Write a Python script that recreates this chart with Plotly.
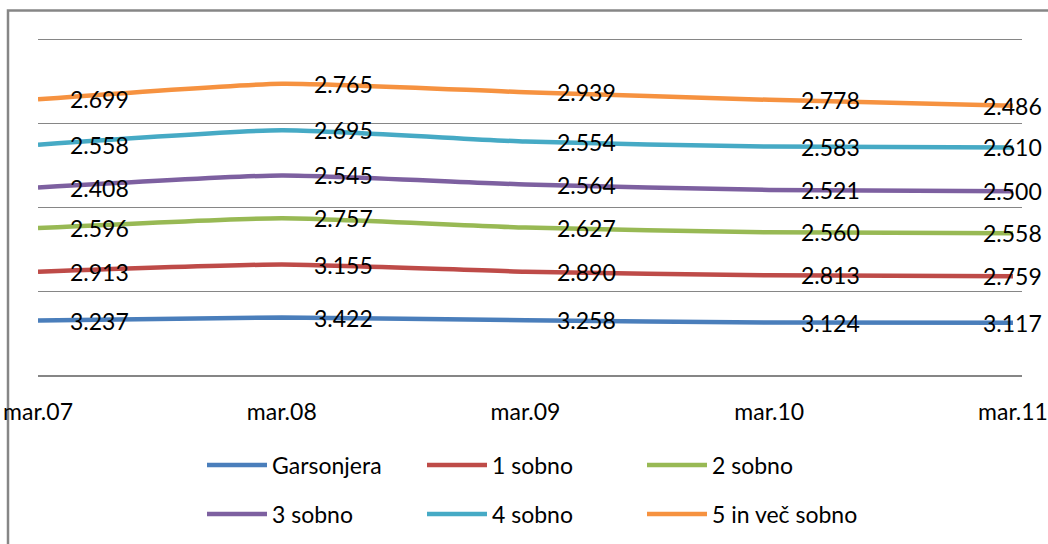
import numpy as np
import plotly.graph_objects as go

# Periods (March of each year)
categories = ["mar.07", "mar.08", "mar.09", "mar.10", "mar.11"]

# Average price per m2 by apartment size
garsonjera = [3237, 3422, 3258, 3124, 3117]
sobno_1 = [2913, 3155, 2890, 2813, 2759]
sobno_2 = [2596, 2757, 2627, 2560, 2558]
sobno_3 = [2408, 2545, 2564, 2521, 2500]
sobno_4 = [2558, 2695, 2554, 2583, 2610]
sobno_5 = [2699, 2765, 2939, 2778, 2486]

series_names = ["Garsonjera", "1 sobno", "2 sobno", "3 sobno", "4 sobno", "5 in več sobno"]
series_values = [garsonjera, sobno_1, sobno_2, sobno_3, sobno_4, sobno_5]
colors = ["#4A7EBB", "#BE4B48", "#98B954", "#7D60A0", "#46AAC5", "#F69240"]

FONT = "Lato"
WEIGHT = 400
GRID = "#868686"

x_idx = np.arange(len(categories))
stacked = np.cumsum(np.array(series_values, dtype=float), axis=0)


def fmt(v):
    return f"{int(v):,}".replace(",", ".")


fig = go.Figure()
annotations = []
for i, (name, vals, col) in enumerate(zip(series_names, series_values, colors)):
    fig.add_trace(go.Scatter(
        x=x_idx, y=stacked[i], name=name, mode="lines",
        line=dict(color=col, width=4.5, shape="spline", smoothing=0.5),
        legend="legend" if i < 3 else "legend2",
        hoverinfo="skip",
    ))
    for j, v in enumerate(vals):
        last = j == len(vals) - 1
        annotations.append(dict(
            x=x_idx[j], y=stacked[i][j], xref="x", yref="y",
            text=fmt(v), showarrow=False,
            xanchor="center" if last else "left",
            xshift=0 if last else 30,
            yanchor="middle",
            font=dict(family=FONT, size=23, color="#000000", weight=WEIGHT),
        ))

# plot area: x 38..1022 px, y 39..375 px
L, R, T, B = 38, 26, 38, 169
W, H = 1048, 544
pw, ph = W - L - R, H - T - B


def px_x(p):
    return (p - L) / pw


def px_y(p):
    return (H - B - p) / ph


legend_common = dict(
    orientation="h", xanchor="left", yanchor="middle",
    font=dict(family=FONT, size=23, color="#000000", weight=WEIGHT),
    entrywidth=145, entrywidthmode="pixels", itemwidth=60,
    bgcolor="rgba(0,0,0,0)", tracegroupgap=0,
)

fig.update_layout(
    width=W, height=H,
    margin=dict(l=L, r=R, t=T, b=B, autoexpand=False),
    paper_bgcolor="#FFFFFF", plot_bgcolor="#FFFFFF",
    showlegend=True,
    legend=dict(x=px_x(202), y=px_y(465), **legend_common),
    legend2=dict(x=px_x(202), y=px_y(514), **legend_common),
    xaxis=dict(
        tickmode="array", tickvals=list(x_idx), ticktext=categories,
        range=[0, 4.037], showgrid=False, zeroline=False, automargin=False,
        showline=True, linecolor=GRID, linewidth=2,
        ticks="", ticklabelstandoff=15,
        tickfont=dict(family=FONT, size=23, color="#000000", weight=WEIGHT),
    ),
    yaxis=dict(
        range=[0, 20060], tickmode="array", tickvals=[5000, 10000, 15000, 20000],
        showticklabels=False, automargin=False,
        showgrid=True, gridcolor=GRID, gridwidth=1, zeroline=False,
    ),
    annotations=annotations,
    shapes=[dict(
        type="rect", xref="paper", yref="paper",
        x0=px_x(8), x1=px_x(1060), y0=px_y(560), y1=px_y(10.5),
        line=dict(color=GRID, width=2.5), fillcolor="rgba(0,0,0,0)", layer="below",
    )],
)

fig.write_html("out.html")
